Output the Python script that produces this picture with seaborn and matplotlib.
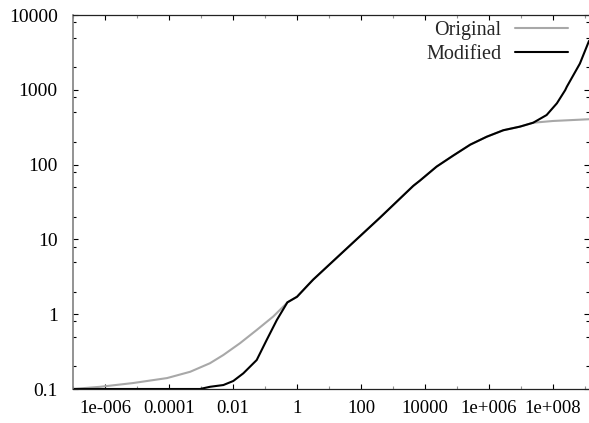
import pandas as pd
import matplotlib
matplotlib.use("Agg")
import matplotlib.pyplot as plt
import seaborn as sns
from matplotlib.ticker import FixedLocator, LogLocator, NullFormatter

# values (log-log)
orig_x = [1e-7, 7e-7, 7.4e-6, 8.7e-5, 4.6e-4, 1.9e-3, 5e-3, 0.0166, 0.055, 0.18, 0.42, 0.5]
orig_y = [0.1, 0.107, 0.12, 0.14, 0.17, 0.221, 0.285, 0.41, 0.615, 0.93, 1.33, 1.44]

mod_x = [1e-7, 9.3e-4, 1.9e-3, 5e-3, 0.0102, 0.021, 0.055, 0.112, 0.234, 0.5]
mod_y = [0.1, 0.1, 0.107, 0.113, 0.128, 0.162, 0.244, 0.45, 0.836, 1.44]

shared_x = [1.0, 2.2, 3.2, 35, 390, 4300, 6900, 23000, 76000, 2.6e5, 8.5e5, 2.8e6, 9.3e6, 2.4e7]
shared_y = [1.71, 2.45, 2.9, 7.5, 19.5, 52, 61, 94, 132, 185, 236, 288, 322, 363]

orig_tail_x = [1e8, 1.33e9]
orig_tail_y = [383, 404]

mod_tail_x = [6.3e7, 1.32e8, 2.4e8, 2.7e8, 6.9e8, 1.33e9]
mod_tail_y = [460, 660, 990, 1100, 2240, 4500]

xtick_vals = [1e-6, 1e-4, 1e-2, 1, 1e2, 1e4, 1e6, 1e8]
xtick_labels = ['1e-006', '0.0001', '0.01', '1', '100', '10000', '1e+006', '1e+008']
ytick_vals = [0.1, 1, 10, 100, 1000, 10000]
ytick_labels = ['0.1', '1', '10', '100', '1000', '10000']

df = pd.concat([
    pd.DataFrame({'x': orig_x + shared_x + orig_tail_x,
                  'y': orig_y + shared_y + orig_tail_y, 'series': 'Original'}),
    pd.DataFrame({'x': mod_x + shared_x + mod_tail_x,
                  'y': mod_y + shared_y + mod_tail_y, 'series': 'Modified'}),
], ignore_index=True)

sns.set_theme(style="white")
plt.rcParams['font.family'] = ['Liberation Serif', 'DejaVu Serif']

fig = plt.figure(figsize=(5.89, 4.23), dpi=100)
ax = fig.add_axes([73 / 589, 1 - 389 / 423, 516 / 589, 374 / 423])
ax.set_xscale('log')
ax.set_yscale('log')

sns.lineplot(data=df, x='x', y='y', hue='series', hue_order=['Original', 'Modified'],
             palette={'Original': '#a8a8a8', 'Modified': '#000000'},
             estimator=None, sort=False, linewidth=1.5, ax=ax)

ax.set_xlim(1e-7, 1.33e9)
ax.set_ylim(0.1, 10000)
ax.set_xlabel('')
ax.set_ylabel('')

ax.xaxis.set_major_locator(FixedLocator(xtick_vals))
ax.set_xticklabels(xtick_labels)
ax.xaxis.set_minor_locator(FixedLocator([1e-7, 1e-5, 1e-3, 1e-1, 1e1, 1e3, 1e5, 1e7, 1e9]))
ax.xaxis.set_minor_formatter(NullFormatter())
ax.yaxis.set_major_locator(FixedLocator(ytick_vals))
ax.set_yticklabels(ytick_labels)
ax.yaxis.set_minor_locator(LogLocator(base=10, subs=(2, 5, 8)))
ax.yaxis.set_minor_formatter(NullFormatter())

ax.tick_params(which='both', direction='in', top=True, right=True, bottom=True, left=True,
               colors='black')
ax.tick_params(axis='x', which='major', length=3.5, width=0.8, pad=8, labelsize=13.5)
ax.tick_params(axis='y', which='major', length=3.5, width=0.8, pad=11, labelsize=14)
ax.tick_params(axis='x', which='minor', length=2, width=0.8, color='#909090')
ax.tick_params(axis='y', which='minor', length=2, width=0.8)

for side in ['top', 'bottom']:
    ax.spines[side].set_color('#222222')
    ax.spines[side].set_linewidth(0.9)
ax.spines['left'].set_color('#808080')
ax.spines['left'].set_linewidth(1.2)
ax.spines['right'].set_visible(False)

handles, labels = ax.get_legend_handles_labels()
ax.legend(handles, labels, loc='upper right', bbox_to_anchor=(0.959, 0.985),
          frameon=False, markerfirst=False, fontsize=14.5, handlelength=2.6,
          handletextpad=0.7, borderpad=0, borderaxespad=0, labelspacing=0.25)

fig.savefig('out.png', dpi=100)
